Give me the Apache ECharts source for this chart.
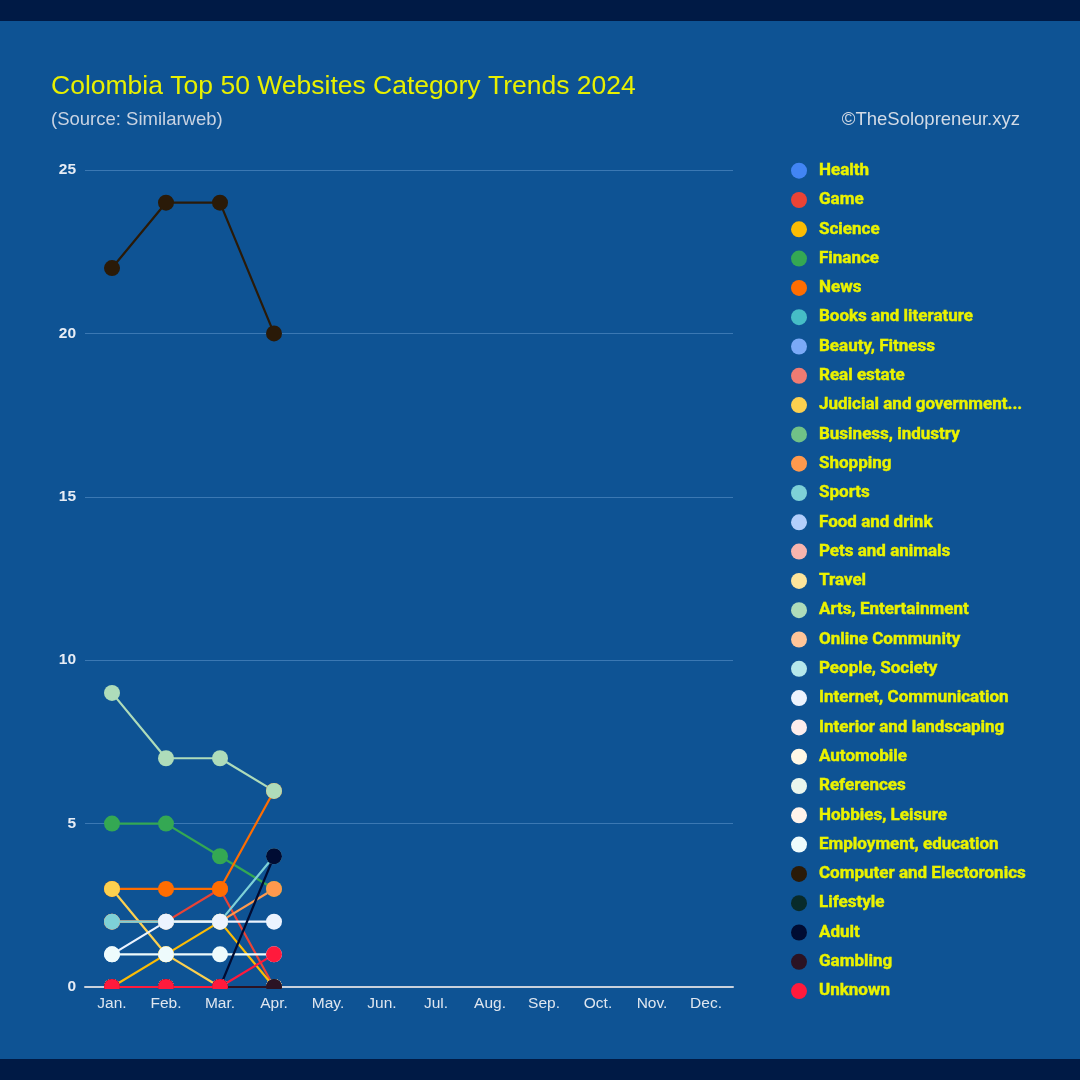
<!DOCTYPE html>
<html><head><meta charset="utf-8">
<script src="https://cdn.jsdelivr.net/npm/echarts@6/dist/echarts.min.js"></script>
<style>html,body{margin:0;padding:0;background:#0e5394}#c{width:1080px;height:1080px}</style>
</head><body><div id="c"></div>
<script>
const months = ['Jan.','Feb.','Mar.','Apr.','May.','Jun.','Jul.','Aug.','Sep.','Oct.','Nov.','Dec.'];
const yTicks = [0, 5, 10, 15, 20, 25];

const categories = ['Health','Game','Science','Finance','News','Books and literature','Beauty, Fitness','Real estate',
  'Judicial and government organizations','Business, industry','Shopping','Sports','Food and drink','Pets and animals',
  'Travel','Arts, Entertainment','Online Community','People, Society','Internet, Communication','Interior and landscaping',
  'Automobile','References','Hobbies, Leisure','Employment, education','Computer and Electoronics','Lifestyle','Adult',
  'Gambling','Unknown'];

const colors = ['#4285f4','#ea4335','#fbbc04','#34a853','#ff6d01','#46bdc6','#7baaf7','#f07b72',
  '#fcd04f','#71c287','#ff994d','#7ed1d7','#b3cefb','#f7b4ae',
  '#fde49b','#aedcba','#ffc599','#b5e8eb','#ecf3fe','#fdedec',
  '#fff8e6','#eaf6ed','#fff3eb','#eefbfc','#2a1a08','#082b2b','#000c33',
  '#2b1324','#ff1a3c'];

// Values Jan..Apr
const health      = [0,0,0,0];
const game        = [2,2,3,0];
const science     = [0,1,2,0];
const finance     = [5,5,4,3];
const news        = [3,3,3,6];
const books       = [0,0,0,0];
const beauty      = [0,0,0,0];
const realEstate  = [0,0,0,0];
const judicial    = [3,1,0,0];
const business    = [0,0,0,0];
const shopping    = [2,2,2,3];
const sports      = [2,2,2,4];
const food        = [0,0,0,0];
const pets        = [0,0,0,0];
const travel      = [0,0,0,0];
const arts        = [9,7,7,6];
const community   = [0,0,0,0];
const people      = [0,0,0,0];
const internet    = [1,2,2,2];
const interior    = [0,0,0,0];
const automobile  = [0,0,0,0];
const references  = [0,0,0,0];
const hobbies     = [0,0,0,0];
const employment  = [1,1,1,1];
const computer    = [22,24,24,20];
const lifestyle   = [0,0,0,0];
const adult       = [0,0,0,4];
const gambling    = [0,0,0,0];
const unknown     = [0,0,0,1];

const values = [health,game,science,finance,news,books,beauty,realEstate,judicial,business,shopping,sports,food,pets,
  travel,arts,community,people,internet,interior,automobile,references,hobbies,employment,computer,lifestyle,adult,gambling,unknown];

const BG = '#0e5394';
const chart = echarts.init(document.getElementById('c'));
chart.setOption({
  animation: false,
  backgroundColor: BG,
  color: colors,
  title: [
    { text: 'Colombia Top 50 Websites Category Trends 2024', left: 51, top: 73, padding: 0,
      textStyle: { color: '#e8f000', fontSize: 26.5, fontWeight: 'normal', fontFamily: 'Liberation Sans, Arial' } },
    { text: '(Source: Similarweb)', left: 51, top: 110, padding: 0,
      textStyle: { color: '#c9d3e2', fontSize: 18.5, fontWeight: 'normal', fontFamily: 'Liberation Sans, Arial' } },
    { text: '©TheSolopreneur.xyz', right: 60, top: 110, padding: 0,
      textStyle: { color: '#d3dbe6', fontSize: 18.5, fontWeight: 'normal', fontFamily: 'Liberation Sans, Arial' } }
  ],
  graphic: [
    { type: 'rect', left: 0, top: 0, shape: { width: 1080, height: 21 }, style: { fill: '#001a45' }, z: 200 },
    { type: 'rect', left: 0, top: 1059, shape: { width: 1080, height: 21 }, style: { fill: '#001a45' }, z: 200 },
    { type: 'rect', left: 80, top: 989, shape: { width: 660, height: 9 }, style: { fill: BG }, z: 200 }
  ],
  legend: {
    orient: 'vertical', left: 791, top: 162, padding: 0,
    itemWidth: 16, itemHeight: 16, itemGap: 11.9, icon: 'circle',
    data: categories.map(name => name.startsWith('Judicial')
      ? { name, textStyle: { width: 207, overflow: 'truncate', ellipsis: '...' } }
      : { name }),
    textStyle: { color: '#eaf200', fontSize: 17, lineHeight: 17, fontWeight: 'bold', fontFamily: 'Roboto',
      textBorderColor: '#eaf200', textBorderWidth: 0.4,
      padding: [0, 0, 0, 7], width: 240, overflow: 'truncate', ellipsis: '...' }
  },
  grid: { left: 85, right: 347, top: 170, bottom: 93 },
  xAxis: {
    type: 'category', data: months, boundaryGap: true,
    axisLine: { lineStyle: { color: '#c9d1dc', width: 2 } },
    axisTick: { show: false },
    axisLabel: { color: '#dfe6ef', fontSize: 15.5, fontFamily: 'Liberation Sans, Arial', margin: 9 }
  },
  yAxis: {
    type: 'value', min: 0, max: 25, interval: 5,
    axisLabel: { color: '#e6ecf5', fontSize: 15.5, fontWeight: 'bold', fontFamily: 'Liberation Sans, Arial', margin: 9,
      formatter: v => yTicks.includes(v) ? String(v) : '' },
    axisLine: { show: false }, axisTick: { show: false },
    splitLine: { lineStyle: { color: '#3b78b3', width: 1.2 } }
  },
  series: categories.map((name, i) => ({
    name, type: 'line', data: values[i],
    symbol: 'circle', symbolSize: 16, showSymbol: true,
    lineStyle: { width: 2.2, color: colors[i] },
    itemStyle: { color: colors[i] },
    emphasis: { disabled: true },
    clip: false
  }))
});
</script>
</body></html>
